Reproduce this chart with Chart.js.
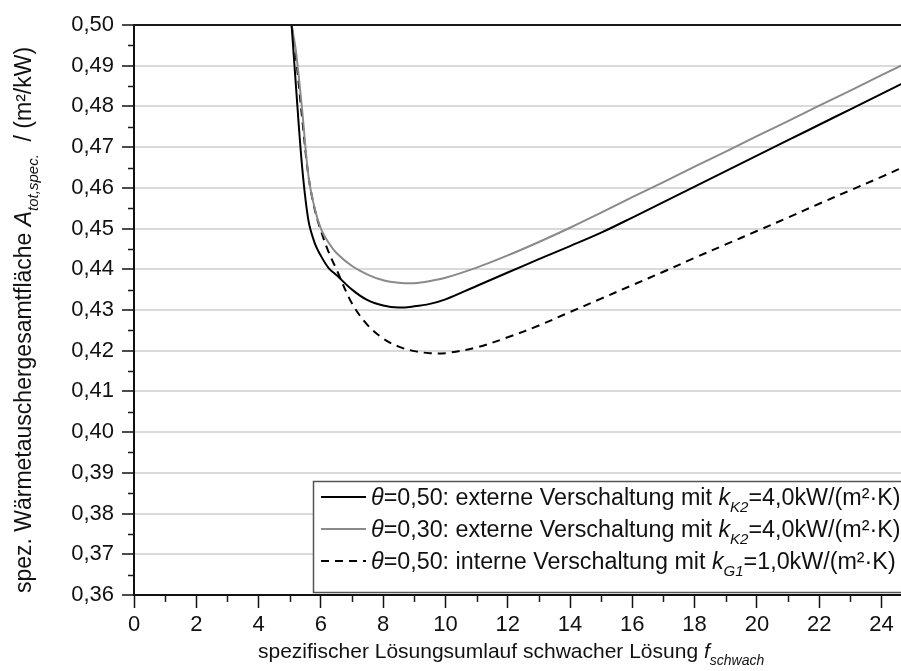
<!DOCTYPE html>
<html><head><meta charset="utf-8">
<script src="https://cdn.jsdelivr.net/npm/chart.js@4/dist/chart.umd.min.js"></script>
<style>
html,body{margin:0;padding:0;overflow:hidden;background:#fff;width:901px;height:671px}
#wrap{position:absolute;left:0;top:0;width:960px;height:671px}
</style>
</head><body><div id="wrap"><canvas id="c" width="960" height="671"></canvas></div>
<script>
// ---- data ----
const fValues      = [5.06, 5.2, 5.4, 5.6, 5.8, 6.0, 6.25, 6.5, 7, 7.5, 8, 8.5, 9, 9.5, 10, 11, 12, 13, 14, 15, 16, 17, 18, 19, 20, 21, 22, 23, 24, 25, 26];
const extern050    = [0.500, 0.485, 0.465, 0.452, 0.4465, 0.4433, 0.4403, 0.4386, 0.4350, 0.4324, 0.4311, 0.4306, 0.4309, 0.4315, 0.4326, 0.4359, 0.4392, 0.4425, 0.4457, 0.4490, 0.4527, 0.4565, 0.4603, 0.4641, 0.4679, 0.4717, 0.4755, 0.4793, 0.4831, 0.4869, 0.4907];
const extern030    = [0.500, 0.4935, 0.479, 0.463, 0.455, 0.4500, 0.4465, 0.4440, 0.4408, 0.4387, 0.4373, 0.4367, 0.4366, 0.4371, 0.4379, 0.4404, 0.4434, 0.4467, 0.4502, 0.4539, 0.4577, 0.4614, 0.4652, 0.4689, 0.4727, 0.4764, 0.4802, 0.4839, 0.4877, 0.4914, 0.4952];
const intern050    = [0.500, 0.492, 0.477, 0.463, 0.4548, 0.4495, 0.4442, 0.4400, 0.4316, 0.4263, 0.4230, 0.4210, 0.4199, 0.4194, 0.4194, 0.4208, 0.4233, 0.4262, 0.4295, 0.4328, 0.4361, 0.4394, 0.4428, 0.4461, 0.4494, 0.4527, 0.4561, 0.4594, 0.4627, 0.4661, 0.4694];
const xMajorTicks  = [0, 2, 4, 6, 8, 10, 12, 14, 16, 18, 20, 22, 24, 26];
const yMajorTicks  = [0.36, 0.37, 0.38, 0.39, 0.40, 0.41, 0.42, 0.43, 0.44, 0.45, 0.46, 0.47, 0.48, 0.49, 0.50];

// rich-text labels: [text, italic, subscript]
const legendLabels = [
  [["θ",1,0],["=0,50: externe Verschaltung mit ",0,0],["k",1,0],["K2",1,1],["=4,0kW/(m²·K)",0,0]],
  [["θ",1,0],["=0,30: externe Verschaltung mit ",0,0],["k",1,0],["K2",1,1],["=4,0kW/(m²·K)",0,0]],
  [["θ",1,0],["=0,50: interne Verschaltung mit ",0,0],["k",1,0],["G1",1,1],["=1,0kW/(m²·K)",0,0]]
];
const xTitle = [["spezifischer Lösungsumlauf schwacher Lösung ",0,0],["f",1,0],["schwach",1,1]];
const yTitle = [["spez. Wärmetauschergesamtfläche ",0,0],["A",1,0],["tot,spec.",1,1],["  / (m²/kW)",0,0]];

const FONT = "'Liberation Sans', Arial, sans-serif";

function mk(vals){ return fValues.map((f,i)=>({x:f,y:vals[i]})); }

function fontFor(seg,size,subSize){
  return (seg[1]?'italic ':'') + (seg[2]?subSize:size) + 'px ' + FONT;
}
function richWidth(ctx,segs,size,subSize){
  let w=0; for(const s of segs){ctx.font=fontFor(s,size,subSize); w+=ctx.measureText(s[0]).width;} return w;
}
function drawRich(ctx,segs,x,y,size,subSize,subOff){
  ctx.textBaseline='alphabetic'; ctx.textAlign='left';
  for(const s of segs){
    ctx.font=fontFor(s,size,subSize);
    ctx.fillText(s[0],x,y+(s[2]?subOff:0));
    x+=ctx.measureText(s[0]).width;
  }
}

const decor = {
  id:'decor',
  afterDraw(chart){
    const ctx=chart.ctx, a=chart.chartArea, xs=chart.scales.x, ys=chart.scales.y;
    ctx.save();
    // frame top
    ctx.strokeStyle='#1a1a1a'; ctx.lineWidth=2;
    ctx.beginPath(); ctx.moveTo(a.left-1,a.top); ctx.lineTo(a.right,a.top); ctx.stroke();
    // minor ticks
    ctx.lineWidth=1.5;
    for(let v=1; v<xs.max; v+=2){
      const px=Math.round(xs.getPixelForValue(v))+0.5;
      ctx.beginPath(); ctx.moveTo(px,a.bottom); ctx.lineTo(px,a.bottom+7); ctx.stroke();
    }
    for(let i=0;i<yMajorTicks.length-1;i++){
      const v=(yMajorTicks[i]+yMajorTicks[i+1])/2;
      const py=Math.round(ys.getPixelForValue(v))+0.5;
      ctx.beginPath(); ctx.moveTo(a.left,py); ctx.lineTo(a.left-6,py); ctx.stroke();
    }
    // legend
    const lx=313, ly=481, lw=640, lh=111;
    ctx.fillStyle='#fff'; ctx.fillRect(lx,ly,lw,lh);
    ctx.strokeStyle='#555'; ctx.lineWidth=1.5; ctx.strokeRect(lx+0.5,ly+0.5,lw,lh);
    const rows=[497,529,561];
    chart.data.datasets.forEach((ds,i)=>{
      ctx.strokeStyle=ds.borderColor; ctx.lineWidth=ds.borderWidth;
      ctx.setLineDash(ds.borderDash||[]);
      ctx.beginPath(); ctx.moveTo(321,rows[i]); ctx.lineTo(366,rows[i]); ctx.stroke();
      ctx.setLineDash([]);
      ctx.fillStyle='#111';
      drawRich(ctx,legendLabels[i],371,rows[i]+8,23.3,15,7);
    });
    // x title
    ctx.fillStyle='#111';
    drawRich(ctx,xTitle,258,658,21,14,7);
    // y title
    ctx.save();
    ctx.translate(31,320); ctx.rotate(-Math.PI/2);
    const w=richWidth(ctx,yTitle,23,15);
    drawRich(ctx,yTitle,-w/2,0,23,15,7);
    ctx.restore();
    ctx.restore();
  }
};

new Chart(document.getElementById('c'),{
  type:'line',
  data:{datasets:[
    {label:'θ=0,50 extern', data:mk(extern050), borderColor:'#000', borderWidth:2, pointRadius:0, tension:0.35},
    {label:'θ=0,30 extern', data:mk(extern030), borderColor:'#8a8a8a', borderWidth:2, pointRadius:0, tension:0.35},
    {label:'θ=0,50 intern', data:mk(intern050), borderColor:'#000', borderWidth:2, borderDash:[8,6], pointRadius:0, tension:0.35}
  ]},
  options:{
    responsive:false, animation:false, devicePixelRatio:1,
    layout:{padding:{left:0,top:25,right:16,bottom:0}},
    plugins:{legend:{display:false},tooltip:{enabled:false}},
    scales:{
      x:{type:'linear',min:0,max:26,
        afterBuildTicks(s){ s.ticks=xMajorTicks.map(v=>({value:v})); },
        afterFit(s){ s.height=76; },
        grid:{drawOnChartArea:false,drawTicks:true,tickLength:13,tickColor:'#111',tickWidth:1.5},
        border:{display:true,color:'#111',width:2},
        ticks:{color:'#111',padding:4,font:{family:FONT,size:22},maxRotation:0,autoSkip:false,
          callback:v=>String(v)}
      },
      y:{type:'linear',min:0.36,max:0.50,
        afterBuildTicks(s){ s.ticks=yMajorTicks.map(v=>({value:v})); },
        afterFit(s){ s.width=134; },
        grid:{color:'#dadada',lineWidth:2,drawTicks:true,tickLength:12,tickColor:'#111',tickWidth:1.5},
        border:{display:true,color:'#111',width:2},
        ticks:{color:'#111',padding:8,font:{family:FONT,size:22},autoSkip:false,
          callback:v=>v.toFixed(2).replace('.',',')}
      }
    }
  },
  plugins:[decor]
});
</script>
</body></html>
